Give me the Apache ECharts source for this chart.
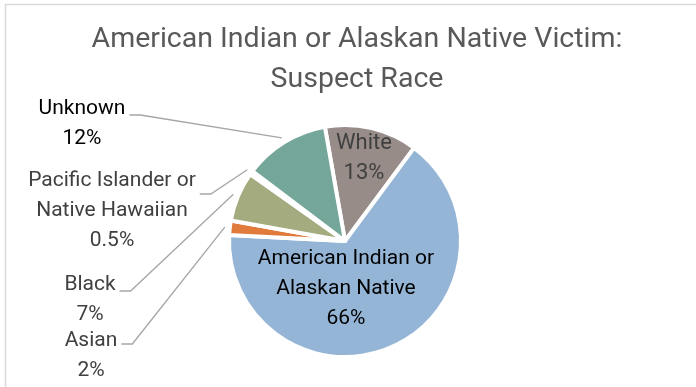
<!DOCTYPE html>
<html>
<head>
<meta charset="utf-8">
<script src="https://cdn.jsdelivr.net/npm/echarts@6/dist/echarts.min.js"></script>
<style>
  html, body { margin: 0; padding: 0; background: #ffffff; }
  #chart { width: 696px; height: 387px; }
</style>
</head>
<body>
<div id="chart"></div>
<script>
// Suspect race shares (percent) for American Indian / Alaskan Native victims
const categories = [
  'White',
  'American Indian or\nAlaskan Native',
  'Asian',
  'Black',
  'Pacific Islander or\nNative Hawaiian',
  'Unknown'
];
const shares = [13, 66, 2, 7, 0.5, 12];

// Slice and label styling
const sliceColors = ['#978C88', '#94B5D6', '#E07B3C', '#A3AB7F', '#C9B47C', '#74A699'];
const labelColors = ['#404040', '#000000', '#404040', '#404040', '#404040', '#000000'];
const labelSizes = [22, 21, 21, 21, 21, 21];
const insideLabels = [true, true, false, false, false, false];
// centre of each label block, in pixels
const labelSpots = [[364, 158], [346, 289], [91, 356], [90, 300], [112, 211], [82, 124]];
// vertical offset (from the label centre) where each leader line meets its label
const leaderDrop = [0, 0, -12, -9, -17, -9];

const FONT = 'Roboto, "Noto Sans", sans-serif';

const chart = echarts.init(document.getElementById('chart'), null, { renderer: 'canvas' });

const pieData = categories.map((name, i) => ({
  name: name,
  value: shares[i],
  itemStyle: { color: sliceColors[i] },
  label: {
    position: insideLabels[i] ? 'inside' : 'outside',
    color: labelColors[i],
    fontSize: labelSizes[i],
    lineHeight: 30
  },
  labelLine: { show: !insideLabels[i] }
}));

chart.setOption({
  animation: false,
  backgroundColor: '#ffffff',
  title: {
    text: 'American Indian or Alaskan Native Victim:\nSuspect Race',
    left: 357,
    top: 20,
    padding: 0,
    textAlign: 'center',
    textStyle: {
      fontFamily: FONT,
      fontSize: 28.5,
      fontWeight: 'normal',
      color: '#595959',
      lineHeight: 40
    }
  },
  graphic: [{
    type: 'polyline',
    silent: true,
    shape: { points: [[5.5, 387], [5.5, 4.5], [696, 4.5]] },
    style: { stroke: '#d9d9d9', lineWidth: 1.5, fill: null }
  }],
  series: [{
    type: 'pie',
    center: [345, 241],
    radius: 116,
    startAngle: 100,
    clockwise: true,
    avoidLabelOverlap: false,
    itemStyle: { borderColor: '#ffffff', borderWidth: 4 },
    label: {
      fontFamily: FONT,
      formatter: p => p.name + '\n' + p.value + '%'
    },
    labelLine: {
      lineStyle: { color: '#a6a6a6', width: 1.3 }
    },
    labelLayout: function (p) {
      const i = p.dataIndex;
      const cx = labelSpots[i][0], cy = labelSpots[i][1];
      const w = p.labelRect.width;
      const out = { x: cx, y: cy, align: 'center', verticalAlign: 'middle' };
      if (!insideLabels[i] && p.labelLinePoints) {
        const a = p.labelLinePoints[0], b = p.labelLinePoints[1];
        const dx = b[0] - a[0], dy = b[1] - a[1];
        const len = Math.hypot(dx, dy) || 1;
        const start = [a[0] + dx / len * 5, a[1] + dy / len * 5];
        const yLine = cy + leaderDrop[i];
        const x0 = cx + w / 2 + 4;
        out.labelLinePoints = [start, [x0 + 11, yLine], [x0, yLine]];
      }
      return out;
    },
    data: pieData
  }]
});
</script>
</body>
</html>
